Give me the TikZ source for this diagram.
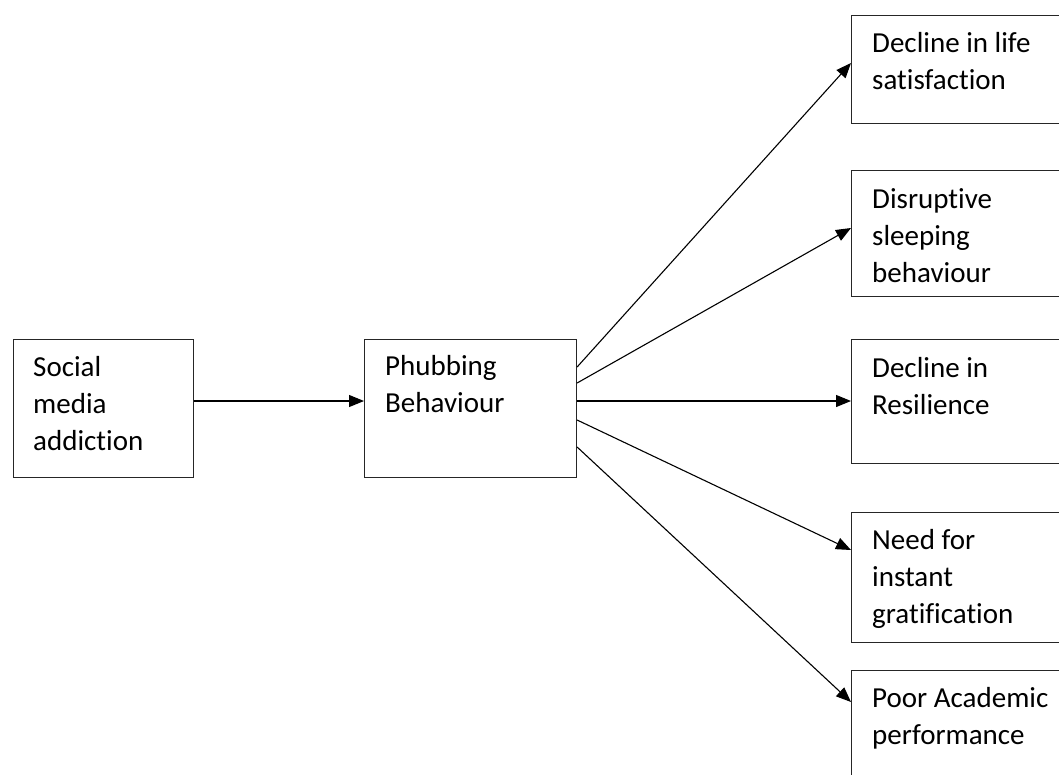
\documentclass[tikz,border=0pt]{standalone}
\usepackage{fontspec}
\setmainfont{Carlito}[RawFeature=-liga]
\usetikzlibrary{arrows.meta}
\tikzset{
  box/.style={draw=black!85, line width=1.1pt, rectangle, inner sep=0pt, anchor=north west},
  lbl/.style={anchor=base west, inner sep=0pt, align=left, font=\fontsize{29}{37}\selectfont},
  conn/.style={draw=black, line width=1.1pt, -{Triangle[length=15pt,width=12pt]}}
}
\begin{document}
\begin{tikzpicture}[x=1pt,y=-1pt]
\clip (0,0) rectangle (1059,774);
\fill[white] (0,0) rectangle (1059,774);
% boxes
\node[box, minimum width=180pt, minimum height=138pt] (soc) at (13,339) {};
\node[box, minimum width=212pt, minimum height=138pt] (phub) at (364,339) {};
\node[box, minimum width=230pt, minimum height=108pt] (r1) at (851,15) {};
\node[box, minimum width=230pt, minimum height=126pt] (r2) at (851,170) {};
\node[box, minimum width=230pt, minimum height=124pt] (r3) at (851,339) {};
\node[box, minimum width=230pt, minimum height=130pt] (r4) at (851,512) {};
\node[box, minimum width=230pt, minimum height=140pt] (r5) at (851,670) {};
% texts (anchored at the baseline of the last line)
\node[lbl] (tsoc) at (33,450) {Social\\media\\addiction};
\node[lbl] (tphub) at (385,412) {Phubbing\\Behaviour};
\node[lbl] (t1) at (872,89) {Decline in life\\satisfaction};
\node[lbl] (t2) at (872,282) {Disruptive\\sleeping\\behaviour};
\node[lbl] (t3) at (872,414) {Decline in\\Resilience};
\node[lbl] (t4) at (872,623) {Need for\\instant\\gratification};
\node[lbl] (t5) at (872,744) {Poor Academic\\performance};
% connectors
\coordinate (s1) at (phub.east |- 0,367);
\coordinate (s2) at (phub.east |- 0,383);
\coordinate (s3) at (phub.east |- 0,401);
\coordinate (s4) at (phub.east |- 0,420);
\coordinate (s5) at (phub.east |- 0,447);
\coordinate (e1) at (r1.west |- 0,63);
\coordinate (e2) at (r2.west |- 0,228);
\coordinate (e3) at (r3.west |- 0,401);
\coordinate (e4) at (r4.west |- 0,550);
\coordinate (e5) at (r5.west |- 0,702);
\draw[conn] (soc.east |- 0,401) -- (phub.west |- 0,401);
\draw[conn] (s1) -- (e1);
\draw[conn] (s2) -- (e2);
\draw[conn] (s3) -- (e3);
\draw[conn] (s4) -- (e4);
\draw[conn] (s5) -- (e5);
\end{tikzpicture}
\end{document}
